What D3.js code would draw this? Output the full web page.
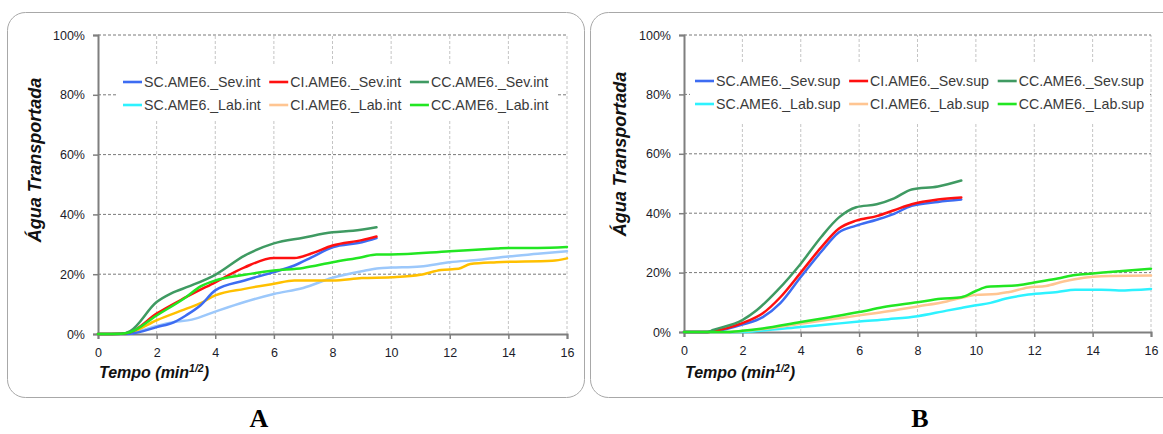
<!DOCTYPE html>
<html><head><meta charset="utf-8">
<script src="https://cdn.jsdelivr.net/npm/d3@7"></script>
<style>
html,body{margin:0;padding:0;background:#fff;}
svg{display:block;font-family:Arial,"Liberation Sans",sans-serif;}
</style></head>
<body>
<svg id="c" width="1163" height="434"></svg>
<script>
// ---------- data ----------
const xTicks = [0, 2, 4, 6, 8, 10, 12, 14, 16];
const yTicks = [0, 20, 40, 60, 80, 100];
const yTickLabels = ["0%", "20%", "40%", "60%", "80%", "100%"];
const panelLabels = ["A", "B"];
const yTitle = "Água Transportada";

const namesA = ["SC.AME6._Sev.int", "CI.AME6._Sev.int", "CC.AME6._Sev.int",
                "SC.AME6._Lab.int", "CI.AME6._Lab.int", "CC.AME6._Lab.int"];
const namesB = ["SC.AME6._Sev.sup", "CI.AME6._Sev.sup", "CC.AME6._Sev.sup",
                "SC.AME6._Lab.sup", "CI.AME6._Lab.sup", "CC.AME6._Lab.sup"];

// Chart A (x = min^1/2, y = %)
const scSevInt = [[0,0],[0.8,0],[1.1,0.1],[2,2.3],[2.6,4],[3,6.2],[3.5,9.6],[4,14.6],[5,17.9],[6,20.7],[6.7,22.9],[7.3,25.7],[8,29],[9,30.7],[9.5,32.1]];
const ciSevInt = [[0,0],[0.8,0.1],[1.1,0.6],[2,6.8],[3,12.3],[4,17.3],[5,22.3],[6,25.4],[6.7,25.4],[7.3,27],[8,29.6],[9,31.4],[9.5,32.6]];
const ccSevInt = [[0,0],[0.8,0.1],[1.1,1],[2,10.7],[2.5,13.6],[3.1,15.9],[4,19.8],[5,26.2],[6,30.3],[7,32.2],[8,34],[8.7,34.5],[9.5,35.7]];
const scLabInt = [[0,0],[0.9,0],[1.1,0.2],[2,2.7],[2.6,4],[3.2,4.8],[4,7.5],[5,10.7],[6,13.4],[7,15.4],[8,18.8],[9,21],[9.6,22],[10,22.2],[11,22.6],[12,24],[13,24.8],[14,25.9],[15,26.8],[16,27.7]];
const ciLabInt = [[0,0],[0.9,0],[1.1,0.4],[2,4.6],[3,8.4],[3.5,10.3],[4,12.9],[5,15.1],[6,16.8],[6.7,17.9],[8,17.9],[9,18.7],[10,19],[11,19.8],[11.7,21.4],[12.3,21.8],[12.7,23.4],[13.6,24],[15.5,24.5],[16,25.3]];
const ccLabInt = [[0,0],[0.8,0.1],[1.1,0.6],[2,6.2],[3,12.3],[3.5,15.9],[4,17.9],[5,19.8],[6,21.2],[7,22.1],[8,24],[9,25.7],[9.5,26.6],[10,26.6],[12,27.7],[13.6,28.6],[14,28.8],[15,28.8],[16,29.1]];

// Chart B
const scSevSup = [[0,0],[0.8,0],[1,0.2],[2,2.5],[2.7,5],[3.3,9.7],[4,18.5],[4.7,27],[5.3,33.5],[5.9,35.8],[6.6,37.8],[7.2,39.8],[7.8,42.5],[8.7,43.8],[9.5,44.6]];
const ciSevSup = [[0,0],[0.8,0],[1,0.3],[2,3],[2.7,6.3],[3.3,11.7],[4,20],[4.7,28.5],[5.3,34.8],[5.9,37.5],[6.6,39],[7.2,41],[7.8,43],[8.7,44.6],[9.5,45.3]];
const ccSevSup = [[0,0],[0.8,0],[1,0.7],[2,4],[2.5,7.4],[3.2,14],[4,23],[4.7,32],[5.3,38.5],[5.9,42],[6.6,43],[7.2,45],[7.8,48],[8.7,49],[9.5,51]];
const scLabSup = [[0,0],[2,0],[2.7,0.5],[4,1.7],[5,2.6],[6,3.5],[7,4.3],[8,5.3],[9,7.2],[9.5,8.1],[10,9],[10.5,9.8],[11,11.2],[11.8,12.6],[12.8,13.5],[13.4,14.2],[14.3,14.2],[14.9,14],[16,14.5]];
const ciLabSup = [[0,0],[1.5,0],[2,0.3],[2.7,1],[4,2.8],[5,4.2],[6,5.6],[7,7],[8,8.6],[9,10.3],[9.5,11.5],[10,12.5],[10.7,12.8],[11.1,13.4],[11.8,15],[12.4,15.5],[13,17],[13.7,18.3],[14.3,18.8],[16,19]];
const ccLabSup = [[0,0],[1.5,0],[2,0.4],[2.7,1.2],[4,3.4],[5,5],[6,6.7],[6.8,8.3],[8,10],[8.8,11.2],[9.5,11.7],[10,13.8],[10.4,15.2],[11.5,15.8],[12,16.7],[12.8,18],[13.4,19.2],[14,19.7],[14.8,20.4],[16,21.3]];

// colours (line colour, legend swatch colour)
const lineColorsA = ["#3d6cf2", "#ff1010", "#3f9a62", "#9cc8fb", "#ffc000", "#22e622"];
const swatchColorsA = ["#3d6cf2", "#ff1010", "#3f9a62", "#2ef2ff", "#ffc592", "#22e622"];
const lineColorsB = ["#3d6cf2", "#ff1010", "#3f9a62", "#2ef2ff", "#ffc592", "#22e622"];

// ---------- drawing ----------
const svg = d3.select("#c");

const panels = [
  { names: namesA, data: [scSevInt, ciSevInt, ccSevInt, scLabInt, ciLabInt, ccLabInt],
    lineColors: lineColorsA, swatchColors: swatchColorsA, label: panelLabels[0],
    box: [7.5, 12.5, 577, 385], x0: 98, x1: 567, y0: 334, y1: 35,
    legendRect: [116, 64, 442, 56], legendX: 123, legendY: 82, titleX: 35, titleY: 160, labelX: 259 },
  { names: namesB, data: [scSevSup, ciSevSup, ccSevSup, scLabSup, ciLabSup, ccLabSup],
    lineColors: lineColorsB, swatchColors: lineColorsB, label: panelLabels[1],
    box: [590.5, 12.5, 600, 385], x0: 684, x1: 1151, y0: 332, y1: 35,
    legendRect: [690, 63, 460, 60], legendX: 695, legendY: 81, titleX: 620, titleY: 154, labelX: 920 }
];

panels.forEach(p => {
  const g = svg.append("g");
  g.append("rect").attr("x", p.box[0]).attr("y", p.box[1]).attr("width", p.box[2]).attr("height", p.box[3])
    .attr("rx", 18).attr("ry", 18).attr("fill", "#fff").attr("stroke", "#a8a8a8").attr("stroke-width", 1);

  const x = d3.scaleLinear().domain([0, 16]).range([p.x0, p.x1]);
  const y = d3.scaleLinear().domain([0, 100]).range([p.y0, p.y1]);

  // vertical grid
  g.append("g").selectAll("line").data(xTicks.slice(1)).join("line")
    .attr("x1", d => x(d)).attr("x2", d => x(d)).attr("y1", y(0)).attr("y2", y(100))
    .attr("stroke", "#c4c4c4").attr("stroke-width", 1).attr("stroke-dasharray", "3,2");
  // horizontal grid
  g.append("g").selectAll("line").data(yTicks.slice(1)).join("line")
    .attr("x1", x(0)).attr("x2", x(16)).attr("y1", d => y(d)).attr("y2", d => y(d))
    .attr("stroke", "#7a7a7a").attr("stroke-width", 1).attr("stroke-dasharray", "3,2");

  // legend background (hides grid)
  g.append("rect").attr("x", p.legendRect[0]).attr("y", p.legendRect[1])
    .attr("width", p.legendRect[2]).attr("height", p.legendRect[3]).attr("fill", "#fff");

  // axes
  const yAxis = d3.axisLeft(y).tickValues(yTicks).tickFormat((d, i) => yTickLabels[i]).tickSize(5).tickPadding(8);
  const ya = g.append("g").attr("transform", `translate(${x(0)},0)`).call(yAxis);
  const xAxis = d3.axisBottom(x).tickValues(xTicks).tickFormat(d3.format("d")).tickSize(5).tickPadding(9);
  const xa = g.append("g").attr("transform", `translate(0,${y(0)})`).call(xAxis);
  [ya, xa].forEach(a => {
    a.select(".domain").attr("stroke", "#7f7f7f").attr("stroke-width", 2);
    a.selectAll(".tick line").attr("stroke", "#7f7f7f").attr("stroke-width", 1.5);
    a.selectAll(".tick text").attr("fill", "#1c1c2a").style("font-size", "12.5px").style("font-family", "Arial, 'Liberation Sans', sans-serif");
  });

  // lines
  const line = d3.line().x(d => x(d[0])).y(d => y(d[1])).curve(d3.curveMonotoneX);
  const order = [3, 4, 0, 1, 2, 5];
  order.forEach(i => {
    g.append("path").datum(p.data[i]).attr("d", line).attr("fill", "none")
      .attr("stroke", p.lineColors[i]).attr("stroke-width", 2.5).attr("stroke-linejoin", "round").attr("stroke-linecap", "round");
  });

  // legend
  const leg = g.append("g");
  const items = p.names.map((n, i) => ({ n, i, col: i % 3, row: Math.floor(i / 3) }));
  const texts = items.map(it => leg.append("text").attr("y", p.legendY + it.row * 23 + 5).attr("fill", "#3a3a3a")
      .style("font-size", "14.2px").text(it.n));
  const colW = [0, 1, 2].map(c => d3.max(items.filter(it => it.col === c), it => texts[it.i].node().getComputedTextLength()));
  let cx = p.legendX;
  const colX = [];
  for (let c = 0; c < 3; c++) { colX.push(cx); cx += 19 + 2 + colW[c] + 8.5; }
  items.forEach(it => {
    const sx = colX[it.col], sy = p.legendY + it.row * 23;
    leg.append("line").attr("x1", sx).attr("x2", sx + 19).attr("y1", sy).attr("y2", sy)
      .attr("stroke", p.swatchColors[it.i]).attr("stroke-width", 2.6);
    texts[it.i].attr("x", sx + 21);
  });

  // y title
  g.append("text").attr("transform", `translate(${p.titleX + 6},${p.titleY}) rotate(-90)`)
    .attr("text-anchor", "middle").style("font-size", "18px").style("font-weight", "bold").style("font-style", "italic")
    .attr("fill", "#111").text(yTitle);

  // x title
  const xt = g.append("text").attr("x", x(0) + 1).attr("y", 378).style("font-size", "16px")
    .style("font-weight", "bold").style("font-style", "italic").attr("fill", "#111");
  xt.append("tspan").text("Tempo (min");
  xt.append("tspan").attr("dy", -6).style("font-size", "10.5px").text("1/2");
  xt.append("tspan").attr("dy", 6).text(")");

  // panel label
  g.append("text").attr("x", p.labelX).attr("y", 427).attr("text-anchor", "middle")
    .style("font-family", "'Liberation Serif','Times New Roman',serif").style("font-size", "26px").style("font-weight", "bold")
    .attr("fill", "#000").text(p.label);
});
</script>
</body></html>
